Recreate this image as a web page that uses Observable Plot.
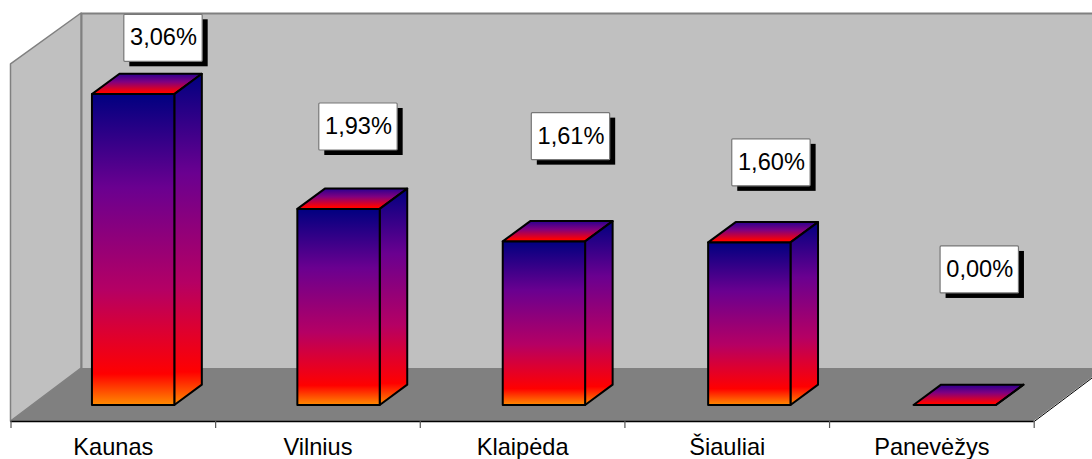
<!DOCTYPE html>
<html><head><meta charset="utf-8">
<style>html,body{margin:0;padding:0;background:#fff;overflow:hidden}</style>
<script src="https://cdn.jsdelivr.net/npm/d3@7"></script>
<script src="https://cdn.jsdelivr.net/npm/@observablehq/plot@0.6"></script>
</head><body><script>
// Data
const cities = ["Kaunas", "Vilnius", "Klaipėda", "Šiauliai", "Panevėžys"];
const shares = [3.06, 1.93, 1.61, 1.60, 0.00];
const labels = ["3,06%", "1,93%", "1,61%", "1,60%", "0,00%"];

// Layout, in units of the x (category) and y (percent) scales
const yBase = -0.1575, yTop = 3.858;
const floorDx = 0.3445, floorDy = 0.5215;
const barLeft = 0.398, barStep = 1.0037, barW = 0.4025;
const barDx = 0.1345, barDy = 0.2;
const labelW = 0.383, labelH = 0.4626;
const labelCx = [0.7452, 1.698, 2.7365, 3.716, 4.734];
const labelCy = [3.614, 2.741, 2.646, 2.388, 1.334];

const rows = cities.map((city, i) => ({
  city, value: shares[i], label: labels[i],
  x1: barLeft + i * barStep, x2: barLeft + i * barStep + barW,
  lx: labelCx[i], ly: labelCy[i]
}));
const sides = rows.flatMap(d => [
  {city: d.city, x: d.x2, lo: 0, hi: d.value},
  {city: d.city, x: d.x2 + barDx, lo: barDy, hi: d.value + barDy}
]);
const tops = rows.flatMap(d => [
  {city: d.city, y: d.value, x1: d.x1, x2: d.x2},
  {city: d.city, y: d.value + barDy, x1: d.x1 + barDx, x2: d.x2 + barDx}
]);

const NS = "http://www.w3.org/2000/svg";
function gradient(id, stops) {
  const g = document.createElementNS(NS, "linearGradient");
  g.setAttribute("id", id);
  g.setAttribute("x1", 0); g.setAttribute("y1", 0);
  g.setAttribute("x2", 0); g.setAttribute("y2", 1);
  for (const [o, c] of stops) {
    const s = document.createElementNS(NS, "stop");
    s.setAttribute("offset", o); s.setAttribute("stop-color", c);
    g.appendChild(s);
  }
  return g;
}
const defs = () => {
  const d = document.createElementNS(NS, "defs");
  d.appendChild(gradient("barFill", [[0, "#000080"], [0.3, "#6a0090"], [0.63, "#b50064"], [0.77, "#dd0030"], [0.9, "#ff0000"], [1, "#ff8c00"]]));
  d.appendChild(gradient("topFill", [[0, "#2a0090"], [0.4, "#800080"], [0.9, "#ff0000"], [1, "#ff0000"]]));
  return d;
};

const wall = "#c0c0c0", floor = "#808080", edge = "#808080";
const chart = Plot.plot({
  width: 1092, height: 459,
  marginLeft: 10.5, marginRight: 58.3, marginTop: 13, marginBottom: 38,
  style: {fontFamily: "'Liberation Sans', Arial, sans-serif", fontSize: "23.3px", background: "#fff", color: "#000"},
  x: {domain: [0, 5], axis: null},
  y: {domain: [yBase, yTop], axis: null},
  marks: [
    defs,
    // back wall
    Plot.rect([0], {x1: floorDx, x2: 5.5, y1: yBase + floorDy, y2: yTop, fill: wall}),
    Plot.ruleY([yTop], {x1: floorDx, x2: 5.5, stroke: edge, strokeWidth: 2}),
    Plot.ruleX([floorDx], {y1: yBase + floorDy, y2: yTop, stroke: edge, strokeWidth: 2}),
    // left wall
    Plot.areaY([{x: 0, a: yBase, b: yTop - floorDy + 0.02}, {x: floorDx, a: yBase + floorDy, b: yTop}],
      {x: "x", y1: "a", y2: "b", fill: wall, stroke: edge, strokeWidth: 1.5}),
    // floor
    Plot.areaX([{y: yBase, a: 0, b: 5}, {y: yBase + floorDy, a: floorDx, b: 5 + floorDx}],
      {y: "y", x1: "a", x2: "b", fill: floor}),
    Plot.line([{x: 5, y: yBase}, {x: 5 + floorDx, y: yBase + floorDy}], {x: "x", y: "y", stroke: "#000", strokeWidth: 1}),
    Plot.ruleY([yBase], {x1: 0, x2: 5, stroke: "#000", strokeWidth: 1.5}),
    // axis
    Plot.axisX({ticks: [0, 1, 2, 3, 4, 5], tickSize: 7, tickFormat: () => "", stroke: "#555", strokeWidth: 1.2}),
    Plot.axisX({ticks: [0.5, 1.5, 2.5, 3.5, 4.5], tickSize: 0, tickPadding: 16.5, tickFormat: v => cities[Math.floor(v)], fontSize: 23.6, fill: "#000"}),
    // bars
    Plot.areaX(tops, {y: "y", x1: "x1", x2: "x2", z: "city", fill: "url(#topFill)", stroke: "#000", strokeWidth: 2, strokeLinejoin: "round"}),
    Plot.areaY(sides, {x: "x", y1: "lo", y2: "hi", z: "city", fill: "url(#barFill)", stroke: "#000", strokeWidth: 2, strokeLinejoin: "round"}),
    Plot.rect(rows, {x1: "x1", x2: "x2", y1: () => 0, y2: "value", fill: "url(#barFill)", stroke: "#000", strokeWidth: 2, strokeLinejoin: "round"}),
    // value labels
    Plot.rect(rows, {x1: d => d.lx - labelW / 2, x2: d => d.lx + labelW / 2, y1: d => d.ly - labelH / 2, y2: d => d.ly + labelH / 2, fill: "#000", dx: 5.5, dy: 5}),
    Plot.rect(rows, {x1: d => d.lx - labelW / 2, x2: d => d.lx + labelW / 2, y1: d => d.ly - labelH / 2, y2: d => d.ly + labelH / 2, fill: "#fff", stroke: "#777", strokeWidth: 1.2, rx: 1}),
    Plot.text(rows, {x: "lx", y: "ly", text: "label", fontSize: 23.6, fill: "#000", dy: -0.5})
  ]
});
document.body.appendChild(chart);
</script></body></html>
